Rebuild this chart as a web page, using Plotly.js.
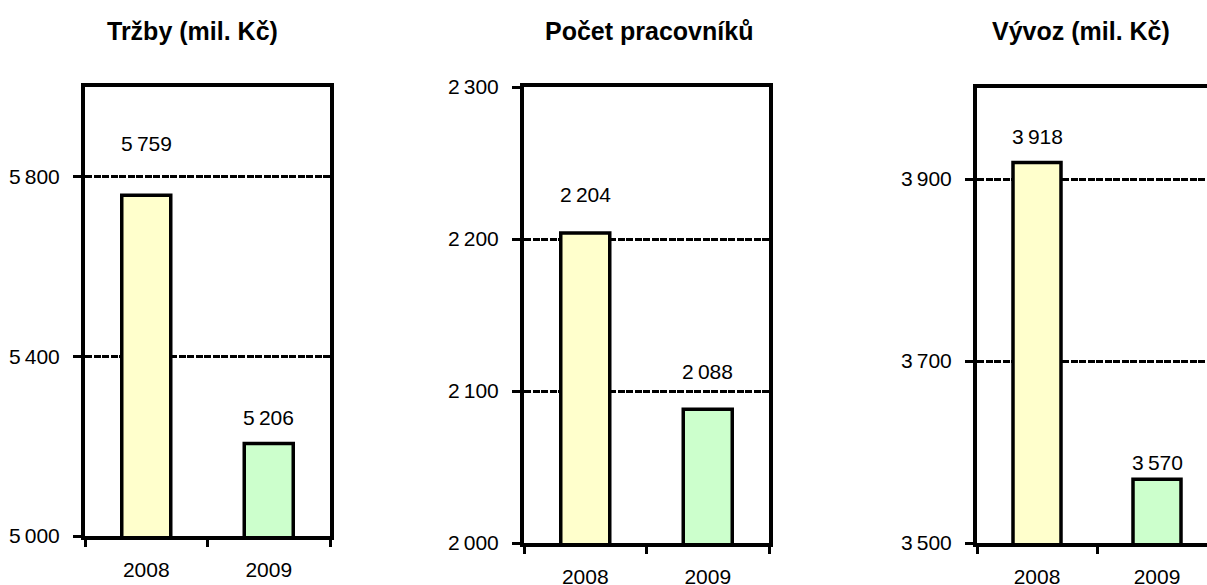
<!DOCTYPE html>
<html>
<head>
<meta charset="utf-8">
<script src="https://cdn.plot.ly/plotly-3.0.1.min.js"></script>
<style>
html,body{margin:0;padding:0;overflow:hidden;background:#fff;width:1207px;height:585px;}
#chart{width:1230px;height:585px;}
</style>
</head>
<body>
<div id="chart"></div>
<script>
// ---- data ----
const years = ['2008', '2009'];
const titles = ['Tržby (mil. Kč)', 'Počet pracovníků', 'Vývoz (mil. Kč)'];
const trzby = [5759, 5206];
const pracovnici = [2204, 2088];
const vyvoz = [3918, 3570];
const ticks1 = [5000, 5400, 5800];
const ticks2 = [2000, 2100, 2200, 2300];
const ticks3 = [3500, 3700, 3900];
const ranges = [[5000, 6000], [2000, 2300], [3500, 4000]];

// ---- styling / placement ----
const W = 1230, H = 585;
const barColors = ['#FFFFCC', '#CCFFCC'];
const labelLift = [[52, 26], [38, 38], [26, 17]];
const frames = [
  {l: 85, r: 330, t: 87, b: 536, tx: 192},
  {l: 524, r: 769, t: 87, b: 543, tx: 649},
  {l: 977, r: 1217, t: 88, b: 543, tx: 1081}
];
const fontFam = '"Liberation Sans", Arial, sans-serif';
const fmt = n => String(n).replace(/\B(?=(\d{3})+(?!\d))/g, '\u2009');

const series = [trzby, pracovnici, vyvoz];
const tickSets = [ticks1, ticks2, ticks3];
const traces = [];
const layout = {
  width: W, height: H,
  margin: {l: 0, r: 0, t: 0, b: 0},
  paper_bgcolor: '#fff', plot_bgcolor: '#fff',
  showlegend: false,
  bargap: 0.6,
  font: {family: fontFam, color: '#000', size: 21},
  annotations: []
};

series.forEach((vals, i) => {
  const sfx = i === 0 ? '' : String(i + 1);
  const f = frames[i];
  traces.push({
    type: 'bar', x: years, y: vals,
    xaxis: 'x' + sfx, yaxis: 'y' + sfx,
    marker: {color: barColors, line: {color: '#000', width: 3.5}},
    hoverinfo: 'none'
  });
  layout['xaxis' + sfx] = {
    domain: [f.l / W, f.r / W],
    anchor: 'y' + sfx,
    type: 'category',
    range: [-0.5, years.length - 0.5],
    showline: true, mirror: true, linewidth: 4, linecolor: '#000',
    ticks: 'outside', tickson: 'boundaries', ticklen: 7, tickwidth: 3, tickcolor: '#000',
    ticklabelstandoff: 12,
    showgrid: false, zeroline: false,
    tickfont: {size: 21, family: fontFam, color: '#000'}
  };
  layout['yaxis' + sfx] = {
    domain: [1 - f.b / H, 1 - f.t / H],
    anchor: 'x' + sfx,
    range: ranges[i],
    tickvals: tickSets[i], ticktext: tickSets[i].map(fmt),
    showline: true, mirror: true, linewidth: 4, linecolor: '#000',
    ticks: 'outside', ticklen: 8, tickwidth: 3, tickcolor: '#000',
    ticklabelstandoff: 9,
    showgrid: true, gridcolor: '#000', gridwidth: 3, griddash: '7px,1.5px',
    zeroline: false,
    tickfont: {size: 21, family: fontFam, color: '#000'}
  };
  layout.annotations.push({
    xref: 'paper', yref: 'paper', x: f.tx / W, y: 1 - 31 / H,
    xanchor: 'center', yanchor: 'middle', showarrow: false,
    text: titles[i], font: {size: 25, family: fontFam, color: '#000', weight: 'bold'}
  });
  vals.forEach((v, j) => {
    layout.annotations.push({
      xref: 'x' + sfx, yref: 'y' + sfx, x: j, y: v,
      yshift: labelLift[i][j], xanchor: 'center', yanchor: 'middle',
      showarrow: false, text: fmt(v),
      font: {size: 21, family: fontFam, color: '#000'}
    });
  });
});

Plotly.newPlot('chart', traces, layout, {staticPlot: true, displayModeBar: false});
</script>
</body>
</html>
